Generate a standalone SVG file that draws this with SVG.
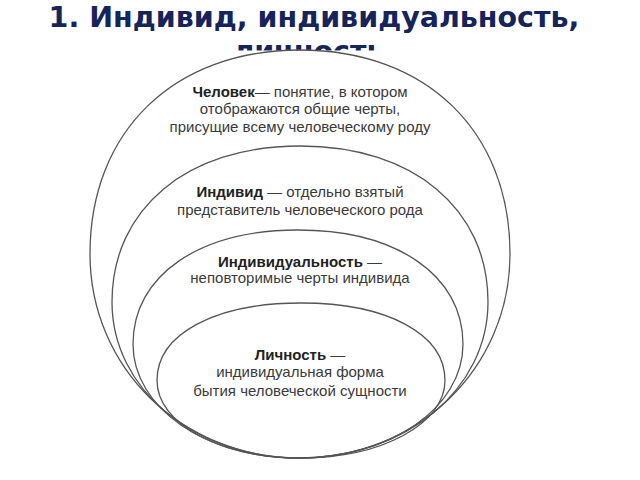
<svg xmlns="http://www.w3.org/2000/svg" width="640" height="480" viewBox="0 0 640 480">
<style>
.title{font-family:"DejaVu Sans",sans-serif;font-weight:bold;font-size:28.5px;fill:#15245a;text-anchor:middle}
.ring{fill:none;stroke:#555;stroke-width:1.3}
.t{font-family:"Liberation Sans",Arial,sans-serif;font-size:15px;fill:#3a3a3a;text-anchor:middle}
.b{font-weight:bold;fill:#222}
</style>
<rect width="640" height="480" fill="#fff"/>
<g id="title">
<text class="title" x="314" y="27">1. Индивид, индивидуальность,</text>
<text class="title" x="309" y="60.5">личность</text>
</g>
<rect x="40" y="50.5" width="560" height="429.5" fill="#fff"/>
<g id="chelovek">
<path class="ring" d="M300,50 C426,50 510,131 510,254 C510,368 417.6,458 300,458 C182.4,458 90,368 90,254 C90,131 174,50 300,50Z"/>
<text class="t" x="300" y="97"><tspan class="b">Человек</tspan>— понятие, в котором</text>
<text class="t" x="300" y="114">отображаются общие черты,</text>
<text class="t" x="300" y="132">присущие всему человеческому роду</text>
</g>
<g id="individ">
<path class="ring" d="M300,146 C412.8,146 488,208.4 488,302 C488,389.4 405.3,458 300,458 C194.7,458 112,389.4 112,302 C112,208.4 187.2,146 300,146Z"/>
<text class="t" x="300" y="197"><tspan class="b">Индивид</tspan> — отдельно взятый</text>
<text class="t" x="300" y="215">представитель человеческого рода</text>
</g>
<g id="individualnost">
<path class="ring" d="M298,230 C397,230 463,275.6 463,344 C463,407.8 390.4,458 298,458 C205.6,458 133,407.8 133,344 C133,275.6 199,230 298,230Z"/>
<text class="t" x="300" y="267"><tspan class="b">Индивидуальность</tspan> —</text>
<text class="t" x="300" y="283">неповторимые черты индивида</text>
</g>
<g id="lichnost">
<path class="ring" d="M301,303 C387.4,303 445,334 445,380.5 C445,423.9 381.6,458 301,458 C220.4,458 157,423.9 157,380.5 C157,334 214.6,303 301,303Z"/>
<text class="t" x="300" y="360"><tspan class="b">Личность</tspan> —</text>
<text class="t" x="300" y="377">индивидуальная форма</text>
<text class="t" x="300" y="396">бытия человеческой сущности</text>
</g>
<g id="connectors"/>
</svg>
